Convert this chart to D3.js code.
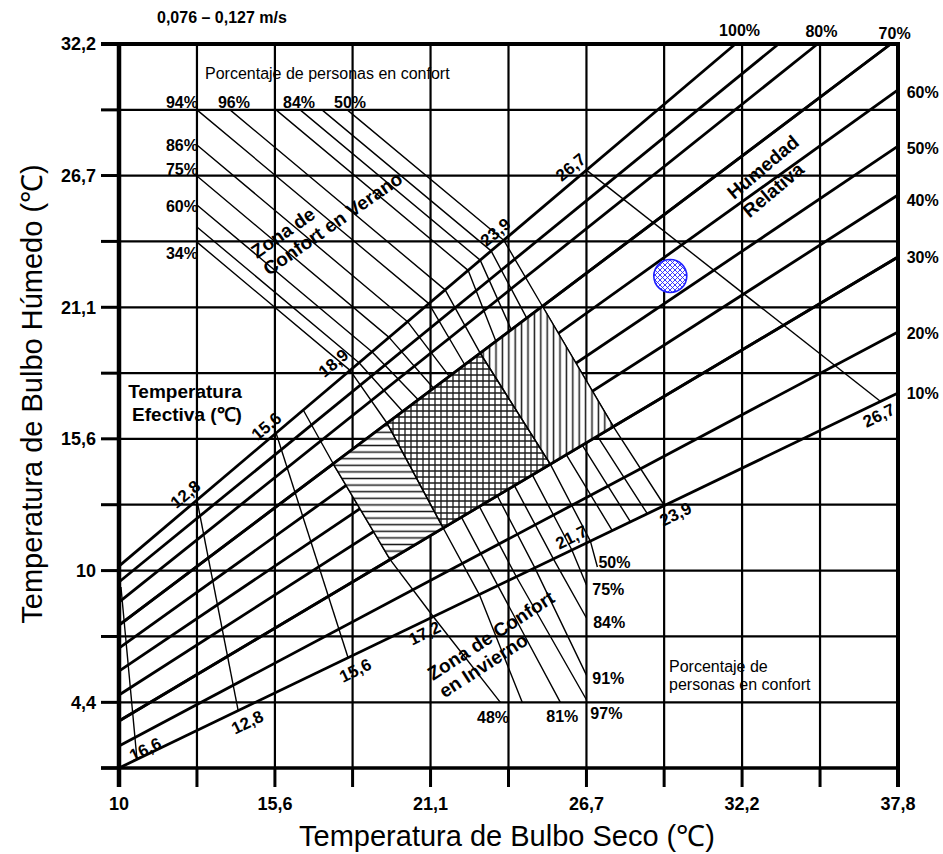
<!DOCTYPE html>
<html><head><meta charset="utf-8">
<script src="https://cdn.jsdelivr.net/npm/d3@7"></script>
<style>
body{margin:0;background:#fff}
text{font-family:"Liberation Sans",Arial,Helvetica,sans-serif;fill:#000}
</style>
</head><body>
<svg id="c" width="943" height="854"></svg>
<script>
// ---------------- DATA ----------------
// Dry bulb (x) grid in °C (every 5 °F) and labels
const xGrid = [10, 12.78, 15.56, 18.33, 21.11, 23.89, 26.67, 29.44, 32.22, 35, 37.78];
const xTickLabels = ["10", "", "15,6", "", "21,1", "", "26,7", "", "32,2", "", "37,8"];
// Wet bulb (y) grid in °C and labels
const yGrid = [1.67, 4.44, 7.22, 10, 12.78, 15.56, 18.33, 21.11, 23.89, 26.67, 29.44, 32.22];
const yTickLabels = ["", "4,4", "", "10", "", "15,6", "", "21,1", "", "26,7", "", "32,2"];

// Relative humidity lines: start / end points [dry bulb, wet bulb]
const rhNames  = ["100%", "90%", "80%", "70%", "60%", "50%", "40%", "30%", "20%", "10%"];
const rhStart  = [[10,10.19],[10,9.52],[10,8.67],[10,7.70],[10,6.73],[10,5.76],[10,4.75],[10,3.65],[10,2.60],[10,1.67]];
const rhEnd    = [[31.98,32.22],[33.52,32.22],[34.91,32.22],[37.52,32.22],[37.78,30.28],[37.78,27.91],[37.78,25.85],[37.78,23.23],[37.78,20.07],[37.78,17.49]];
const rhLabels = ["100%", "", "80%", "70%", "60%", "50%", "40%", "30%", "20%", "10%"];
const rhLabelPos = [[32.13,32.81],null,[35.05,32.77],[37.66,32.68],[38.66,30.19],[38.66,27.83],[38.66,25.64],[38.66,23.23],[38.66,20.02],[38.66,17.49]];

// Effective-temperature lines of the comfort zones: dry bulb where each crosses RH 100 %, 70 %, 30 %, 10 %
const etAt100 = [16.57, 18.24, 18.56, 19.02, 19.63, 20.29, 21.05, 21.63, 22.45, 22.88, 23.27, 23.72];
const etAt70  = [17.64, 19.56, 20.12, 20.67, 21.22, 21.78, 22.33, 22.88, 23.44, 23.99, 24.54, 25.10];
const etAt30  = [19.67, 21.56, 22.21, 22.85, 23.49, 24.10, 24.74, 25.38, 25.95, 26.52, 27.06, 27.63];
const etAt10  = [21.21, 22.85, 23.51, 24.17, 24.83, 25.49, 26.15, 26.81, 27.59, 28.24, 28.84, 29.45];
// Summer "% persons in comfort" branches (start points) and winter branches (end points)
const summerStart = [null,[12.78,23.86],[12.78,24.50],[12.78,25.43],[12.78,26.65],[12.78,27.96],[12.78,29.44],[13.96,29.44],[15.60,29.44],[16.46,29.44],[17.24,29.44],[18.14,29.44]];
const winterEnd   = [[23.60,4.44],[24.38,4.44],[25.74,4.44],[26.67,4.55],[26.67,5.59],[26.67,8.00],[26.67,9.39],[27.06,10.15],null,null,null,null];

// Summer percentage labels
const summerLabels   = ["34%", "60%", "75%", "86%", "94%", "96%", "84%", "50%"];
const summerLabelPos = [[12.78,23.40],[12.78,25.38],[12.78,26.94],[12.78,27.96],[12.78,29.77],[14.10,29.77],[16.42,29.77],[18.24,29.77]];
// Winter percentage labels
const winterLabels   = ["48%", "81%", "97%", "91%", "84%", "75%", "50%"];
const winterLabelPos = [[23.34,3.82],[25.81,3.86],[27.38,3.97],[27.45,5.46],[27.48,7.80],[27.45,9.22],[27.67,10.36]];

// Comfort zones: pairs of ET-line indices bounding each hatched area
const zoneBounds = [[0,1],[1,7],[7,11]];

// Other effective-temperature lines
const etExtra      = [[[10.07,9.31],[10.64,2.05]]];
const etSimpleTop    = [12.78, 15.60, 26.67];
const etSimpleBottom = [14.25, 18.17, 37.16];
const etTopLabels    = ["12,8", "15,6", "18,9", "23,9", "26,7"];
const etTopPos       = [[12.36,13.23],[15.25,16.10],[17.64,18.76],[23.42,24.29],[26.10,27.03]];
const etBottomLabels = ["16,6", "12,8", "15,6", "17,2", "21,7", "23,9", "26,7"];
const etBottomPos    = [[10.93,2.47],[14.57,3.61],[18.42,5.80],[20.89,7.37],[26.13,11.42],[29.84,12.39],[37.09,16.56]];

// Marked condition
const marker = [29.66, 22.43];

// ---------------- DRAW ----------------
const svg = d3.select("#c");
const x = d3.scaleLinear().domain([10, 37.78]).range([119, 898]);
const y = d3.scaleLinear().domain([1.67, 32.22]).range([768, 44]);
const line = d3.line().x(d => x(d[0])).y(d => y(d[1]));
const rhAt = (i, db) => { const s = rhStart[i], e = rhEnd[i]; return s[1] + (db - s[0]) * (e[1] - s[1]) / (e[0] - s[0]); };
const P = (i, db) => [db, rhAt(i, db)];
const I100 = 0, I70 = 3, I30 = 7, I10 = 9;

// patterns
const defs = svg.append("defs");
function makePattern(id, w, h, d, color, sw) {
  const p = defs.append("pattern").attr("id", id).attr("patternUnits", "userSpaceOnUse").attr("width", w).attr("height", h);
  p.append("rect").attr("width", w).attr("height", h).attr("fill", "#fff");
  p.append("path").attr("d", d).attr("stroke", color).attr("stroke-width", sw).attr("fill", "none");
}
makePattern("hH", 6, 6.6, "M0,3.3H6", "#1a1a1a", 1.5);
makePattern("hV", 6.4, 6, "M3.2,0V6", "#1a1a1a", 1.5);
makePattern("hX", 6, 6, "M0,3H6M3,0V6", "#1a1a1a", 1.3);
makePattern("hB", 5, 5, "M0,0L5,5M5,0L0,5", "#2626ff", 0.9);
const zonePatterns = ["hH", "hX", "hV"];

const g = svg.append("g");

// grid lines
g.selectAll(".vg").data(xGrid.slice(1, -1)).join("line")
  .attr("x1", d => x(d)).attr("x2", d => x(d)).attr("y1", y(32.22)).attr("y2", y(1.67))
  .attr("stroke", "#000").attr("stroke-width", 2.2);
g.selectAll(".hg").data(yGrid.slice(1, -1)).join("line")
  .attr("x1", x(10)).attr("x2", x(37.78)).attr("y1", d => y(d)).attr("y2", d => y(d))
  .attr("stroke", "#000").attr("stroke-width", 2.2);

// ticks
g.selectAll(".xt").data(xGrid).join("line")
  .attr("x1", d => x(d)).attr("x2", d => x(d)).attr("y1", y(1.67)).attr("y2", y(1.67) + 19)
  .attr("stroke", "#000").attr("stroke-width", 3);
g.selectAll(".yt").data(yGrid).join("line")
  .attr("x1", x(10) - 18).attr("x2", x(10)).attr("y1", d => y(d)).attr("y2", d => y(d))
  .attr("stroke", "#000").attr("stroke-width", 3);

// RH lines
const drawRH = (i) => g.append("path").attr("d", line([rhStart[i], rhEnd[i]]))
  .attr("stroke", "#000").attr("stroke-width", 2.8).attr("fill", "none");
rhStart.forEach((s, i) => drawRH(i));

// ET lines
const thin = (pts) => g.append("path").attr("d", line(pts)).attr("stroke", "#000")
  .attr("stroke-width", 1.4).attr("fill", "none").attr("stroke-linejoin", "round");
etAt100.forEach((_, k) => {
  const pts = [];
  if (summerStart[k]) pts.push(summerStart[k]);
  pts.push(P(I100, etAt100[k]), P(I70, etAt70[k]), P(I30, etAt30[k]), P(I10, etAt10[k]));
  if (winterEnd[k]) pts.push(winterEnd[k]);
  thin(pts);
});
etExtra.forEach(pts => thin(pts));
etSimpleTop.forEach((t, k) => thin([P(I100, t), P(I10, etSimpleBottom[k])]));

// hatched comfort zones
zoneBounds.forEach(([a, b], k) => {
  const poly = [P(I70, etAt70[a]), P(I70, etAt70[b]), P(I30, etAt30[b]), P(I30, etAt30[a])];
  g.append("path").attr("d", line(poly) + "Z").attr("fill", "url(#" + zonePatterns[k] + ")").attr("stroke", "none");
});
drawRH(I70); drawRH(I30);
zoneBounds.flat().forEach(k => thin([P(I70, etAt70[k]), P(I30, etAt30[k])]));

// frame
g.append("line").attr("x1", x(10)).attr("x2", x(10)).attr("y1", y(32.22) - 2).attr("y2", y(1.67) + 19).attr("stroke", "#000").attr("stroke-width", 4.5);
g.append("line").attr("x1", x(37.78)).attr("x2", x(37.78)).attr("y1", y(32.22) - 2).attr("y2", y(1.67) + 19).attr("stroke", "#000").attr("stroke-width", 4);
g.append("line").attr("x1", x(10) - 18).attr("x2", x(37.78) + 2).attr("y1", y(32.22)).attr("y2", y(32.22)).attr("stroke", "#000").attr("stroke-width", 4);
g.append("line").attr("x1", x(10) - 18).attr("x2", x(37.78) + 2).attr("y1", y(1.67)).attr("y2", y(1.67)).attr("stroke", "#000").attr("stroke-width", 3.6);

// marker circle
g.append("circle").attr("cx", x(marker[0])).attr("cy", y(marker[1])).attr("r", 16.5)
  .attr("fill", "url(#hB)").attr("stroke", "#1f1fff").attr("stroke-width", 1.6);

// ---------------- TEXT ----------------
const T = g.append("g");
// tick labels
T.selectAll(".xl").data(xGrid).join("text")
  .attr("x", d => x(d)).attr("y", y(1.67) + 42).attr("text-anchor", "middle")
  .attr("font-size", 18).attr("font-weight", "bold").text((d, i) => xTickLabels[i]);
T.selectAll(".yl").data(yGrid).join("text")
  .attr("x", x(10) - 23).attr("y", d => y(d)).attr("dy", "0.36em").attr("text-anchor", "end")
  .attr("font-size", 18).attr("font-weight", "bold").text((d, i) => yTickLabels[i]);

// axis titles
T.append("text").attr("x", 507).attr("y", 846).attr("text-anchor", "middle").attr("font-size", 29)
  .text("Temperatura de Bulbo Seco (℃)");
T.append("text").attr("transform", "translate(42,394) rotate(-90)").attr("text-anchor", "middle").attr("font-size", 29)
  .text("Temperatura de Bulbo Húmedo (℃)");

// RH labels
rhLabels.forEach((t, i) => {
  if (!t) return;
  T.append("text").attr("x", x(rhLabelPos[i][0])).attr("y", y(rhLabelPos[i][1])).attr("dy", "0.36em")
    .attr("text-anchor", "middle").attr("font-size", 16).attr("font-weight", "bold").text(t);
});

// summer / winter percentage labels
summerLabels.forEach((t, i) => {
  const p = summerLabelPos[i];
  T.append("text").attr("x", p[0] <= 12.78 ? x(p[0]) + 1 : x(p[0])).attr("y", y(p[1])).attr("dy", "0.36em")
    .attr("text-anchor", p[0] <= 12.78 ? "end" : "middle").attr("font-size", 16).attr("font-weight", "bold").text(t);
});
winterLabels.forEach((t, i) => {
  const p = winterLabelPos[i];
  T.append("text").attr("x", x(p[0])).attr("y", y(p[1])).attr("dy", "0.36em")
    .attr("text-anchor", "middle").attr("font-size", 16).attr("font-weight", "bold").text(t);
});

// ET labels
etTopLabels.forEach((t, i) => {
  const p = etTopPos[i];
  T.append("text").attr("transform", `translate(${x(p[0])},${y(p[1])}) rotate(-40)`).attr("dy", "0.36em")
    .attr("text-anchor", "middle").attr("font-size", 17).attr("font-weight", "bold").text(t);
});
etBottomLabels.forEach((t, i) => {
  const p = etBottomPos[i];
  T.append("text").attr("transform", `translate(${x(p[0])},${y(p[1])}) rotate(-26)`).attr("dy", "0.36em")
    .attr("text-anchor", "middle").attr("font-size", 17).attr("font-weight", "bold").text(t);
});

// annotations
function multi(px, py, rot, lines, size, weight, gap) {
  const t = T.append("text").attr("transform", `translate(${px},${py}) rotate(${rot})`)
    .attr("font-size", size).attr("font-weight", weight);
  lines.forEach((s, i) => t.append("tspan").attr("x", 0).attr("y", i * gap).text(s));
  return t;
}
T.append("text").attr("x", 157).attr("y", 23).attr("font-size", 16).attr("font-weight", "bold").text("0,076 – 0,127 m/s");
T.append("text").attr("x", 205).attr("y", 79).attr("font-size", 16).text("Porcentaje de personas en confort");
multi(669, 672, 0, ["Porcentaje de", "personas en confort"], 16, "normal", 18);
T.append("text").attr("x", 185).attr("y", 398).attr("text-anchor", "middle").attr("font-size", 19).attr("font-weight", "bold").text("Temperatura");
T.append("text").attr("x", 187).attr("y", 421).attr("text-anchor", "middle").attr("font-size", 19).attr("font-weight", "bold").text("Efectiva (℃)");
multi(257, 259, -35, ["Zona de", "Confort en Verano"], 19, "bold", 21);
multi(433, 681, -33, ["Zona de Confort", "en Invierno"], 19, "bold", 21);
multi(734, 200, -40, ["Humedad", "Relativa"], 19, "bold", 24);
</script>
</body></html>
